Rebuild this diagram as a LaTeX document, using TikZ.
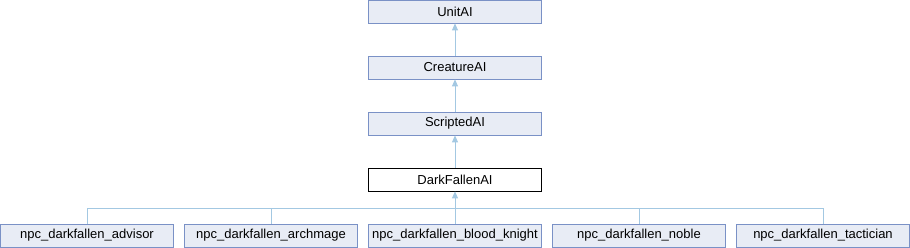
\documentclass[tikz,border=0pt]{standalone}
\usepackage{fontspec}
\setmainfont{Liberation Sans}
\usetikzlibrary{arrows.meta}
\definecolor{boxfill}{HTML}{E8ECF5}
\definecolor{boxline}{HTML}{7A91C6}
\definecolor{edgeblue}{HTML}{A3C8E2}

\begin{document}
\begin{tikzpicture}[x=1pt,y=-1pt,>={Triangle[length=7pt,width=6pt]},
  cls/.style={draw=boxline,fill=boxfill,line width=0.8pt,minimum width=173pt,minimum height=23pt,inner sep=0pt,font=\fontsize{13pt}{15pt}\selectfont},
  cur/.style={cls,draw=black,fill=white},
  inh/.style={draw=edgeblue,line width=0.8pt}]
\useasboundingbox (0,0) rectangle (910,248);
\node[cls] (unitai) at (455,11.5) {UnitAI};
\node[cls] (creatureai) at (455,67.5) {CreatureAI};
\node[cls] (scriptedai) at (455,123.5) {ScriptedAI};
\node[cur] (darkfallenai) at (455,179.5) {DarkFallenAI};
\node[cls] (advisor) at (87,235.5) {npc\_darkfallen\_advisor};
\node[cls] (archmage) at (271,235.5) {npc\_darkfallen\_archmage};
\node[cls] (bloodknight) at (455,235.5) {npc\_darkfallen\_blood\_knight};
\node[cls] (noble) at (639,235.5) {npc\_darkfallen\_noble};
\node[cls] (tactician) at (823,235.5) {npc\_darkfallen\_tactician};
\coordinate (bus) at (455,208);
\draw[inh,->] (creatureai) -- (unitai);
\draw[inh,->] (scriptedai) -- (creatureai);
\draw[inh,->] (darkfallenai) -- (scriptedai);
\draw[inh,->] (darkfallenai |- bus) -- (darkfallenai);
\foreach \n in {advisor,archmage,bloodknight,noble,tactician}
  \draw[inh] (\n.north) -- (\n |- bus);
\draw[inh] (advisor |- bus) -- (tactician |- bus);
\end{tikzpicture}
\end{document}
